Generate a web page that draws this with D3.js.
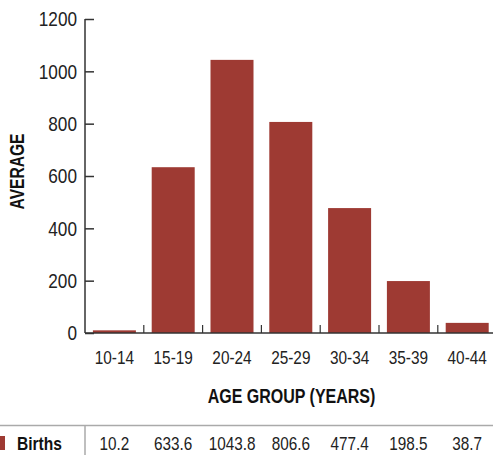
<!DOCTYPE html>
<html>
<head>
<script src="https://d3js.org/d3.v7.min.js"></script>
<style>
  body { margin: 0; background: #fff; }
  svg { display: block; font-family: "Liberation Sans", Arial, sans-serif; }
</style>
</head>
<body>
<script>
var ageGroups = ["10-14", "15-19", "20-24", "25-29", "30-34", "35-39", "40-44"];
var births = [10.2, 633.6, 1043.8, 806.6, 477.4, 198.5, 38.7];
var yTicks = [0, 200, 400, 600, 800, 1000, 1200];
var seriesName = "Births";

var width = 493, height = 455;
var barColor = "#9e3a33";

var svg = d3.select("body").append("svg")
    .attr("width", width)
    .attr("height", height);

// condensed look: squeeze the regular font horizontally
function label(g, x, y, txt, size, sx, anchor, bold, rot) {
  return g.append("text")
    .attr("transform", "translate(" + x + "," + y + ")" + (rot ? " rotate(" + rot + ")" : "") + " scale(" + sx + ",1)")
    .attr("text-anchor", anchor)
    .style("font-size", size + "px")
    .style("font-weight", bold ? "bold" : "normal")
    .attr("fill", bold ? "#111" : "#222")
    .text(txt);
}

var x = d3.scaleBand()
    .domain(ageGroups)
    .range([85, 85 + 58.8 * ageGroups.length])
    .padding(0);

var y = d3.scaleLinear()
    .domain([0, 1200])
    .range([333, 19]);

var barW = 43;

// bars
svg.selectAll("rect.bar")
    .data(births)
    .enter().append("rect")
    .attr("class", "bar")
    .attr("x", function(d, i) { return x(ageGroups[i]) + (x.bandwidth() - barW) / 2; })
    .attr("y", function(d) { return y(d); })
    .attr("width", barW)
    .attr("height", function(d) { return y(0) - y(d); })
    .attr("fill", barColor);

// y axis
var yAxis = svg.append("g")
    .attr("transform", "translate(85,0)")
    .call(d3.axisLeft(y).tickValues(yTicks).tickSize(-9).tickFormat(""));
yAxis.select(".domain").attr("stroke", "#333").attr("stroke-width", 1.5).attr("d", "M0," + y(1200) + "V" + y(0));
yAxis.selectAll(".tick line").attr("stroke", "#333").attr("stroke-width", 1.5);

yTicks.forEach(function(t) {
  label(svg, 77, y(t) + 7.2, d3.format("d")(t), 20, 0.86, "end", false);
});

// x axis line
svg.append("line")
    .attr("x1", 85).attr("x2", width)
    .attr("y1", y(0)).attr("y2", y(0))
    .attr("stroke", "#333").attr("stroke-width", 1.5);

// x boundary ticks
svg.selectAll("line.xtick")
    .data(ageGroups.slice(1))
    .enter().append("line")
    .attr("class", "xtick")
    .attr("x1", function(d) { return x(d); })
    .attr("x2", function(d) { return x(d); })
    .attr("y1", y(0)).attr("y2", y(0) - 8)
    .attr("stroke", "#333").attr("stroke-width", 1.2);

// x labels
ageGroups.forEach(function(a) {
  label(svg, x(a) + x.bandwidth() / 2, 363.5, a, 18.5, 0.83, "middle", false);
});

// axis titles
label(svg, 24, 171.5, "AVERAGE", 19.5, 0.8, "middle", true, -90);
label(svg, 291.5, 403, "AGE GROUP (YEARS)", 20, 0.8, "middle", true);

// data table
svg.append("line")
    .attr("x1", 0).attr("x2", width)
    .attr("y1", 425.5).attr("y2", 425.5)
    .attr("stroke", "#aaa").attr("stroke-width", 1.5);
svg.append("line")
    .attr("x1", 85).attr("x2", 85)
    .attr("y1", 425).attr("y2", height)
    .attr("stroke", "#aaa").attr("stroke-width", 1.5);

svg.append("rect")
    .attr("x", 0).attr("y", 436)
    .attr("width", 5).attr("height", 14)
    .attr("fill", barColor);

label(svg, 17, 449.5, seriesName, 19, 0.82, "start", true);

births.forEach(function(d, i) {
  label(svg, x(ageGroups[i]) + x.bandwidth() / 2, 449.5, d3.format(".1f")(d), 18, 0.85, "middle", false);
});
</script>
</body>
</html>
